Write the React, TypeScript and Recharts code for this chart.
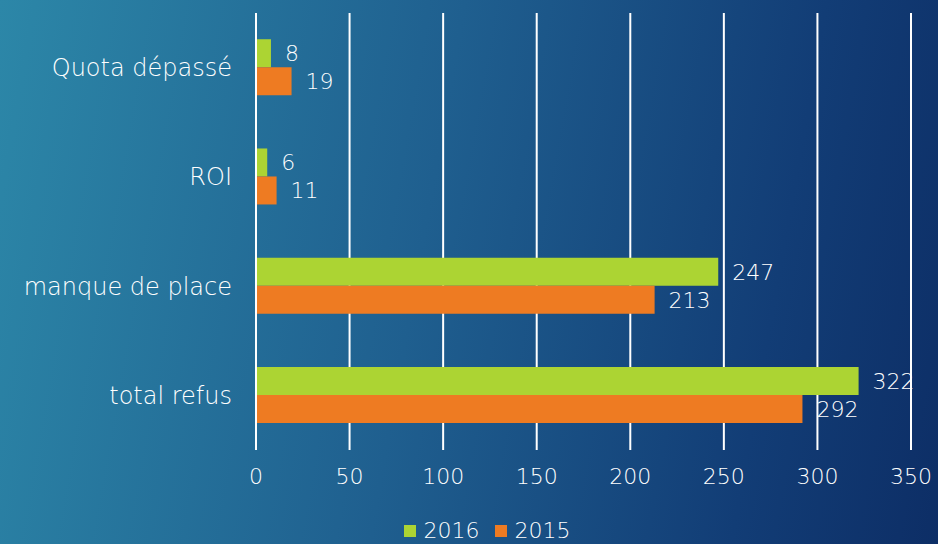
import React from "react";
import { BarChart, Bar, XAxis, YAxis, CartesianGrid, Legend, LabelList } from "recharts";

const categories = ["Quota dépassé", "ROI", "manque de place", "total refus"];
const values2016 = [8, 6, 247, 322];
const values2015 = [19, 11, 213, 292];
const xTicks = [0, 50, 100, 150, 200, 250, 300, 350];

const data = categories.map((name, i) => ({ name, y2016: values2016[i], y2015: values2015[i] }));

const GREEN = "#acd433";
const ORANGE = "#ee7b22";
const FONT = "'DejaVu Sans', sans-serif";
const W = 300;

const LegendContent = () => (
  <div style={{ display: "flex", justifyContent: "center", alignItems: "center", fontFamily: FONT, fontWeight: W, fontSize: 22, color: "#fff", paddingLeft: 36 }}>
    <span style={{ display: "inline-block", width: 12, height: 12, background: GREEN, marginRight: 8 }} />
    <span style={{ marginRight: 15 }}>2016</span>
    <span style={{ display: "inline-block", width: 12, height: 12, background: ORANGE, marginRight: 8 }} />
    <span>2015</span>
  </div>
);

export default function App() {
  return (
    <div
      style={{
        position: "fixed",
        left: 0,
        top: 0,
        width: 938,
        height: 544,
        background: "linear-gradient(100deg, #2c87a8 0%, #1f5f8f 45%, #123d76 80%, #0d2e66 100%)",
      }}
    >
      <BarChart
        width={938}
        height={544}
        data={data}
        layout="vertical"
        margin={{ top: 13, right: 27, left: 0, bottom: 0 }}
        barCategoryGap="24%"
        barGap={0}
      >
        <CartesianGrid horizontal={false} vertical={true} stroke="#ffffff" strokeWidth={2} />
        <XAxis
          type="number"
          domain={[0, 350]}
          ticks={xTicks}
          tickLine={false}
          axisLine={false}
          tick={{ fill: "#fff", fontSize: 22, fontFamily: FONT, fontWeight: W }}
          tickMargin={12}
          height={69}
          interval={0}
        />
        <YAxis
          type="category"
          dataKey="name"
          width={256}
          tickLine={false}
          axisLine={{ stroke: "#fff", strokeWidth: 2 }}
          tick={{ fill: "#fff", fontSize: 24, fontFamily: FONT, fontWeight: W }}
          tickMargin={18}
        />
        <Legend content={<LegendContent />} wrapperStyle={{ top: 518, left: 0, width: 938 }} />
        <Bar dataKey="y2016" name="2016" fill={GREEN} isAnimationActive={false}>
          <LabelList dataKey="y2016" position="right" offset={14} fill="#fff" fontSize={22} fontFamily={FONT} fontWeight={W} />
        </Bar>
        <Bar dataKey="y2015" name="2015" fill={ORANGE} isAnimationActive={false}>
          <LabelList dataKey="y2015" position="right" offset={14} fill="#fff" fontSize={22} fontFamily={FONT} fontWeight={W} />
        </Bar>
      </BarChart>
    </div>
  );
}
